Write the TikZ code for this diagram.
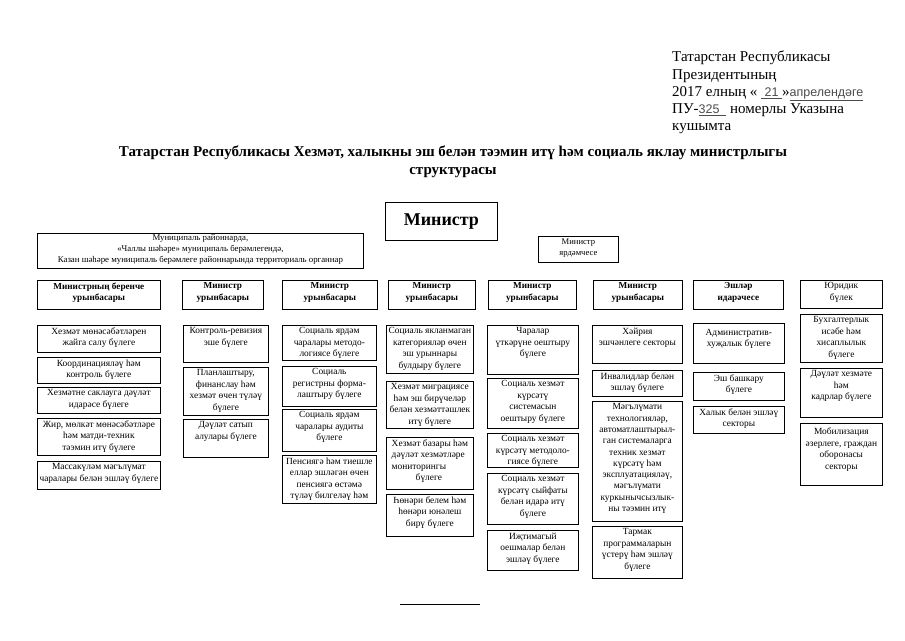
\documentclass[tikz,border=0pt]{standalone}
\usepackage{fontspec}
\setmainfont{Liberation Serif}
\newfontfamily\fillfont{Liberation Sans}
\tikzset{
  frame/.style={draw, line width=0.75pt, anchor=north west, inner sep=0pt},
  txt/.style={anchor=north, align=center, inner xsep=0pt, inner ysep=2.5pt,
    font=\fontsize{9.4}{11.5}\selectfont},
  hdr/.style={font=\fontsize{9.2}{11.4}\selectfont\bfseries},
}
\newcommand\orgbox[7][]{%
  \pgfmathsetmacro\obw{#5-#3}\pgfmathsetmacro\obh{#6-#4}%
  \node[frame, minimum width=\obw pt, minimum height=\obh pt] (#2) at (#3,#4) {};
  \node[txt, #1] (#2t) at (#2.north) {#7};}
\begin{document}
\begin{tikzpicture}[x=1pt,y=-1pt]
\useasboundingbox[fill=white] (0,0) rectangle (905,640);

% header block
\node[anchor=north west, align=left, inner sep=0pt, font=\fontsize{15}{17.2}\selectfont] (head) at (672,51)
 {Татарстан Республикасы\\
  Президентының\\
  2017 елның « {\fillfont\fontsize{12.5}{17}\selectfont\color{black!70}\underline{\ 21\ }}»{\fillfont\fontsize{12.5}{17}\selectfont\color{black!70}\underline{апрелендәге}}\\
  ПУ-{\fillfont\fontsize{12.5}{17}\selectfont\color{black!70}\underline{325\ \ }} номерлы Указына\\
  кушымта};

% title
\node[align=center, inner sep=0pt, font=\fontsize{15}{18}\selectfont\bfseries] (title) at (453,162)
 {Татарстан Республикасы Хезмәт, халыкны эш белән тәэмин итү һәм социаль яклау министрлыгы\\структурасы};

% minister
\node[frame, minimum width=112pt, minimum height=38pt, font=\fontsize{18}{20}\selectfont\bfseries] (min) at (385,202) {Министр};

\orgbox[font=\fontsize{8.8}{10.8}\selectfont, inner ysep=1.5pt]{mun}{37}{233}{363}{268}{Муниципаль районнарда,\\«Чаллы шәһәре» муниципаль берәмлегендә,\\Казан шәһәре муниципаль берәмлеге районнарында территориаль органнар}
\orgbox[font=\fontsize{8.6}{11}\selectfont, inner ysep=3pt]{asst}{538}{236}{618}{262}{Министр\\ярдәмчесе}

% heads
\orgbox[hdr]{h1}{37}{280}{160}{309}{Министрның беренче\\урынбасары}
\orgbox[hdr]{h2}{182}{280}{263}{309}{Министр\\урынбасары}
\orgbox[hdr]{h3}{282}{280}{377}{309}{Министр\\урынбасары}
\orgbox[hdr]{h4}{388}{280}{475}{309}{Министр\\урынбасары}
\orgbox[hdr]{h5}{488}{280}{576}{309}{Министр\\урынбасары}
\orgbox[hdr]{h6}{593}{280}{682}{309}{Министр\\урынбасары}
\orgbox[hdr]{h7}{693}{280}{783}{309}{Эшләр\\идарәчесе}
\orgbox{h8}{800}{280}{882}{308}{Юридик\\бүлек}

% column 1
\orgbox{b11}{37}{325}{160}{352}{Хезмәт мөнәсәбәтләрен\\жайга салу бүлеге}
\orgbox{b12}{37}{357}{160}{383}{Координацияләү һәм\\контроль бүлеге}
\orgbox{b13}{37}{387}{160}{413}{Хезмәтне саклауга дәүләт\\идарәсе бүлеге}
\orgbox{b14}{37}{418}{160}{455}{Жир, мөлкәт мөнәсәбәтләре\\һәм матди-техник\\тәэмин итү бүлеге}
\orgbox{b15}{37}{461}{160}{489}{Массакүләм мәгълүмат\\чаралары белән эшләү бүлеге}

% column 2
\orgbox{b21}{183}{325}{268}{362}{Контроль-ревизия\\эше бүлеге}
\orgbox{b22}{183}{367}{268}{415}{Планлаштыру,\\финанслау һәм\\хезмәт өчен түләү\\бүлеге}
\orgbox{b23}{183}{419}{268}{457}{Дәүләт сатып\\алулары бүлеге}

% column 3
\orgbox{b31}{282}{325}{376}{360}{Социаль ярдәм\\чаралары методо-\\логиясе бүлеге}
\orgbox{b32}{282}{366}{376}{406}{Социаль\\регистрны форма-\\лаштыру бүлеге}
\orgbox{b33}{282}{409}{376}{451}{Социаль ярдәм\\чаралары аудиты\\бүлеге}
\orgbox{b34}{282}{455}{376}{503}{Пенсиягә һәм тиешле\\еллар эшләгән өчен\\пенсиягә өстәмә\\түләү билгеләү һәм}

% column 4
\orgbox{b41}{386}{325}{473}{373}{Социаль якланмаган\\категорияләр өчен\\эш урыннары\\булдыру бүлеге}
\orgbox{b42}{386}{381}{473}{428}{Хезмәт миграциясе\\һәм эш бирүчеләр\\белән хезмәттәшлек\\итү бүлеге}
\orgbox[align=left]{b43}{386}{437}{473}{489}{Хезмәт базары һәм\\дәүләт хезмәтләре\\мониторингы\\\hspace*{24pt}бүлеге}
\orgbox{b44}{386}{494}{473}{536}{Һөнәри белем һәм\\һөнәри юнәлеш\\бирү бүлеге}

% column 5
\orgbox{b51}{487}{325}{578}{374}{Чаралар\\үткәрүне оештыру\\бүлеге}
\orgbox{b52}{487}{378}{578}{428}{Социаль хезмәт\\күрсәтү\\системасын\\оештыру бүлеге}
\orgbox{b53}{487}{433}{578}{467}{Социаль хезмәт\\күрсәтү методоло-\\гиясе бүлеге}
\orgbox{b54}{487}{473}{578}{524}{Социаль хезмәт\\күрсәтү сыйфаты\\белән идарә итү\\бүлеге}
\orgbox{b55}{487}{530}{578}{570}{Иҗтимагый\\оешмалар белән\\эшләү бүлеге}

% column 6
\orgbox{b61}{592}{325}{682}{363}{Хәйрия\\эшчәнлеге секторы}
\orgbox{b62}{592}{370}{682}{396}{Инвалидлар белән\\эшләү бүлеге}
\orgbox[font=\fontsize{9.4}{11.3}\selectfont]{b63}{592}{401}{682}{521}{Мәгълүмати\\технологияләр,\\автоматлаштырыл-\\ган системаларга\\техник хезмәт\\күрсәтү һәм\\эксплуатацияләү,\\мәгълүмати\\куркынычсызлык-\\ны тәэмин итү}
\orgbox{b64}{592}{526}{682}{578}{Тармак\\программаларын\\үстерү һәм эшләү\\бүлеге}

% column 7
\orgbox[inner ysep=6pt]{b71}{693}{323}{784}{363}{Административ-\\хуҗалык бүлеге}
\orgbox{b72}{693}{372}{784}{400}{Эш башкару\\бүлеге}
\orgbox{b73}{693}{406}{784}{433}{Халык белән эшләү\\секторы}

% column 8
\orgbox{b81}{800}{314}{882}{362}{Бухгалтерлык\\исәбе һәм\\хисаплылык\\бүлеге}
\orgbox{b82}{800}{368}{882}{417}{Дәүләт хезмәте\\һәм\\кадрлар бүлеге}
\orgbox[inner ysep=5pt]{b83}{800}{423}{882}{485}{Мобилизация\\әзерлеге, граждан\\оборонасы\\секторы}

% footnote rule
\draw[line width=0.6pt] (400,604) -- (480,604);
\end{tikzpicture}
\end{document}
